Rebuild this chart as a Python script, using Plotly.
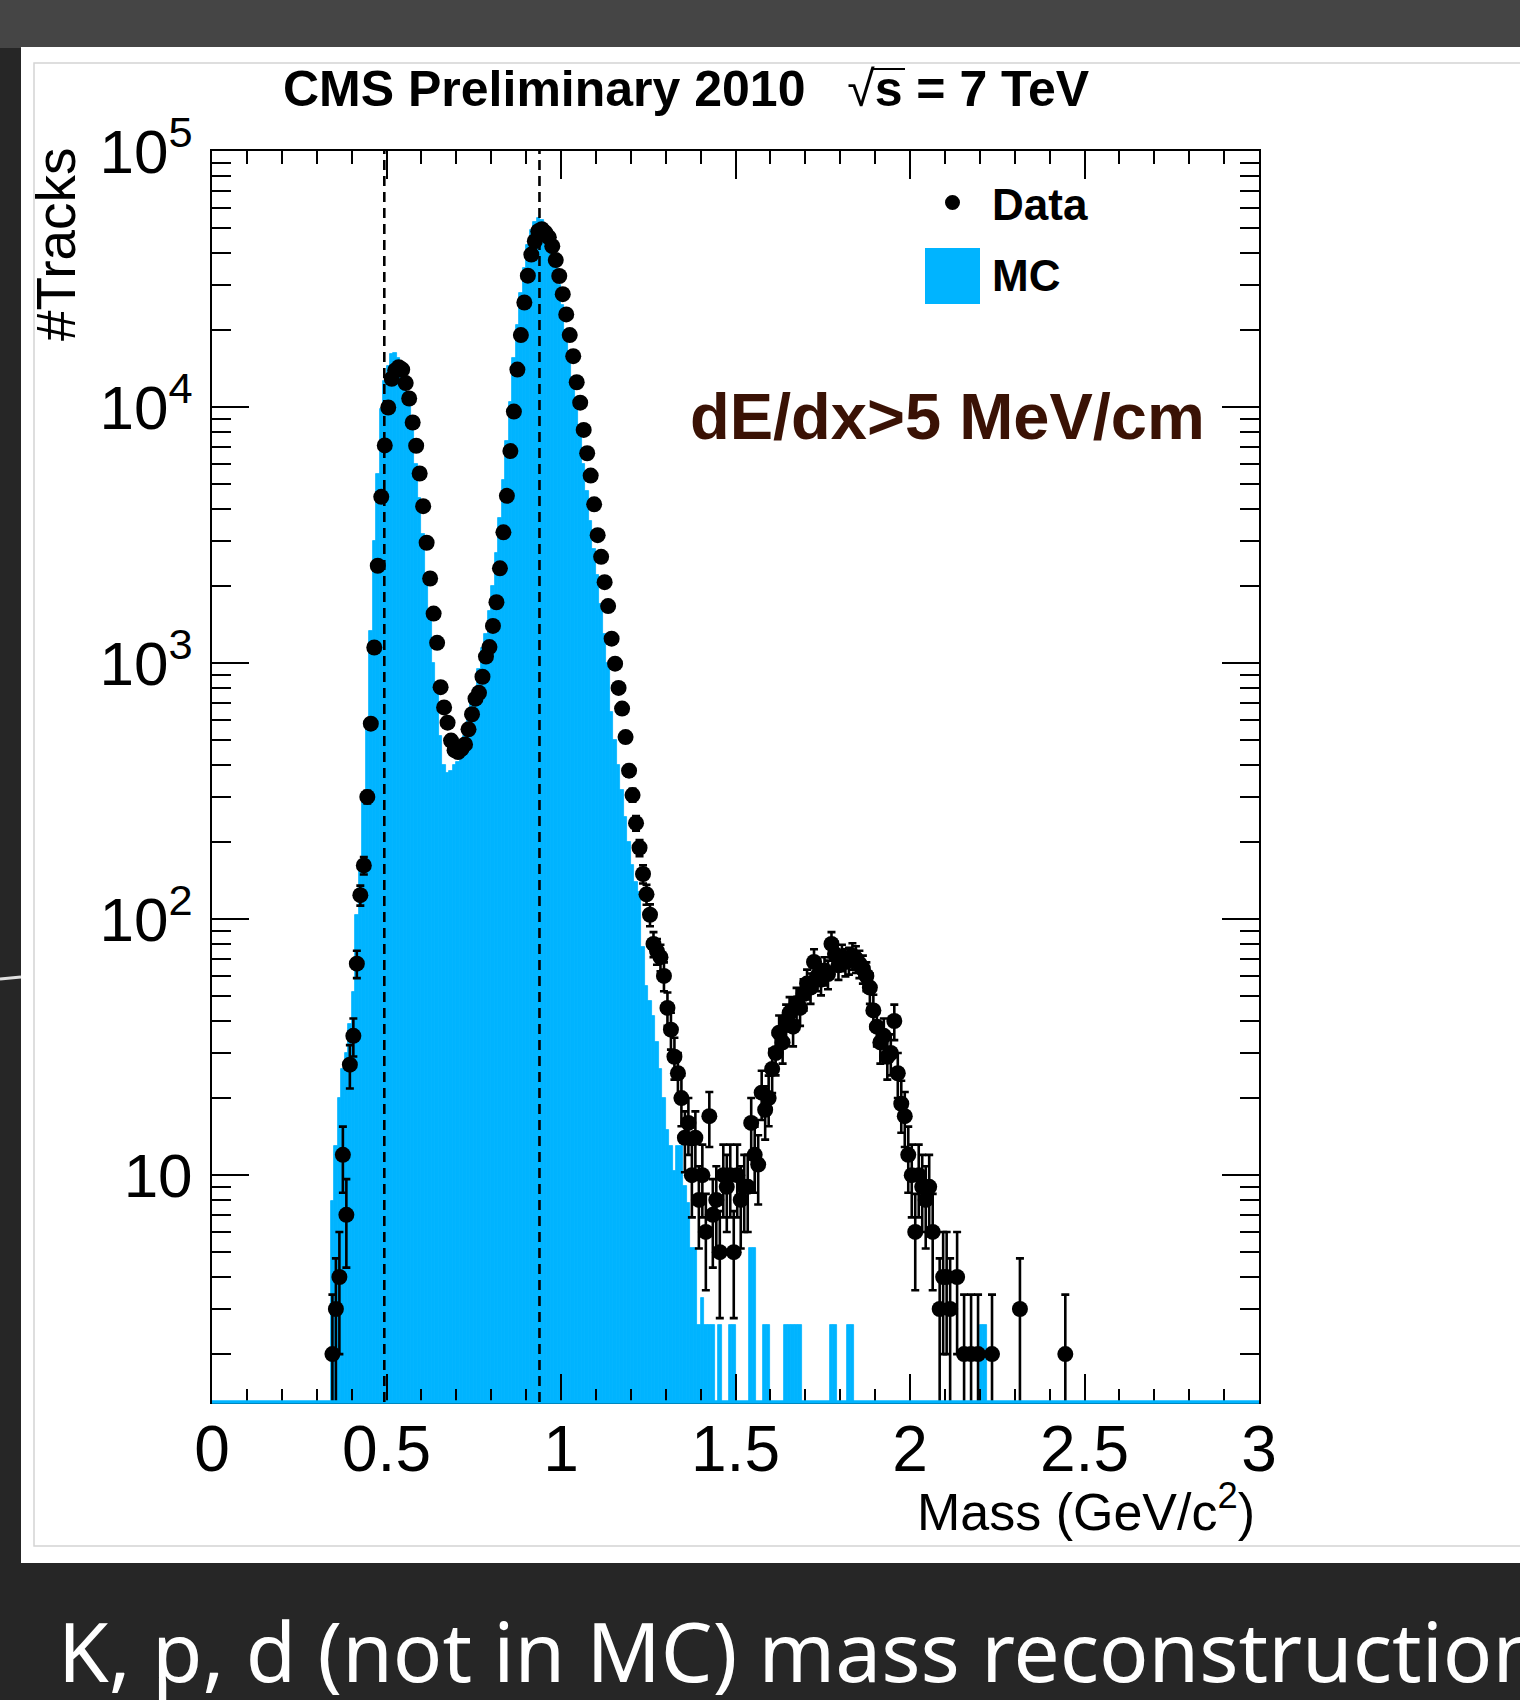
import math
import plotly.graph_objects as go

# ---------------------------------------------------------------------------
# Histogram contents (0.01 GeV/c^2 bins)
# ---------------------------------------------------------------------------
BIN_WIDTH = 0.01

# Data: counts per bin, first bin starts at 0.34 GeV/c^2
DATA_LOW_EDGE = 0.34
data_counts = [
    2, 3, 4, 12, 7, 27, 35, 67, 124, 162,                      # 0.34 - 0.44
    300, 580, 1150, 2400, 4460, 7080, 9960, 12900, 13900, 14300,  # 0.44 - 0.54
    14000, 12400, 10800, 8700, 7060, 5500, 4100, 2950, 2140, 1560,  # 0.54 - 0.64
    1200, 805, 671, 585, 498, 457, 449, 462, 481, 551,          # 0.64 - 0.74
    631, 726, 765, 884, 1060, 1155, 1397, 1728, 2345, 3240,     # 0.74 - 0.84
    4500, 6730, 9600, 14000, 19100, 25600, 32600, 39400, 44400, 48600,  # 0.84 - 0.94
    49500, 48000, 46000, 42500, 37500, 32500, 27600, 23000, 19100, 15800,  # 0.94 - 1.04
    12500, 10400, 8140, 6600, 5400, 4170, 3160, 2600, 2070, 1670,  # 1.04 - 1.14
    1245, 995, 800, 664, 514, 380, 305, 237, 190, 150,          # 1.14 - 1.24
    125, 104, 80, 75, 71, 60, 45, 37, 29, 25,                   # 1.24 - 1.34
    20, 14, 16, 10, 14, 8, 10, 6, 17, 7,                        # 1.34 - 1.44
    8, 5, 10, 9, 10, 5, 10, 8, 9, 9,                            # 1.44 - 1.54
    16, 12, 11, 21, 18, 20, 26, 30, 36, 33,                     # 1.54 - 1.64
    40, 43, 38, 47, 45, 51, 56, 54, 68, 60,                     # 1.64 - 1.74
    58, 63, 61, 80, 73, 66, 71, 68, 69, 72,                     # 1.74 - 1.84
    70, 67, 64, 60, 54, 44, 38, 33, 35, 29,                     # 1.84 - 1.94
    30, 40, 25, 19, 17, 12, 10, 6, 10, 9,                       # 1.94 - 2.04
    8, 9, 6, 0, 3, 4, 4, 3, 0, 4,                               # 2.04 - 2.14
    0, 2, 0, 2, 0, 2, 0, 0, 0, 2,                               # 2.14 - 2.24
    0, 0, 0, 0, 0, 0, 0, 3, 0, 0,                               # 2.24 - 2.34
    0, 0, 0, 0, 0, 0, 0, 0, 0, 0,                               # 2.34 - 2.44
    2,                                                          # 2.44 - 2.45
]

# Simulation (normalised to data), first bin starts at 0.34 GeV/c^2
MC_LOW_EDGE = 0.34
mc_values = [
    7.9, 13, 20, 26, 30, 39, 52, 104, 165, 300,                 # 0.34 - 0.44
    590, 1330, 3000, 5500, 9800, 12600, 14500, 16100, 16200, 15600,  # 0.44 - 0.54
    13800, 12000, 10100, 8200, 6000, 4400, 3200, 2200, 1500, 1000,   # 0.54 - 0.64
    780, 520, 400, 373, 378, 400, 410, 430, 520, 640,            # 0.64 - 0.74
    740, 800, 950, 1150, 1300, 1600, 2000, 2700, 3700, 5200,     # 0.74 - 0.84
    7400, 10500, 15500, 21000, 28000, 35000, 43000, 49000, 53000, 54500,  # 0.84 - 0.94
    54000, 51000, 47000, 42000, 36000, 30000, 25000, 20000, 16000, 12800,  # 0.94 - 1.04
    10000, 7800, 6000, 4700, 3600, 2800, 2200, 1700, 1300, 1000,  # 1.04 - 1.14
    645, 500, 400, 320, 250, 200, 162, 140, 128, 78,             # 1.14 - 1.24
    55, 48, 42, 33, 26, 20, 15, 13, 10.4, 13,                    # 1.24 - 1.34
    13, 9.1, 7.8, 5.2, 5.2, 2.6, 3.3, 2.6, 2.6, 2.6,             # 1.34 - 1.44
    0, 2.6, 0, 0, 2.6, 2.6, 0, 0, 0, 0,                          # 1.44 - 1.54
    5.2, 5.2, 0, 0, 2.6, 2.6, 0, 0, 0, 0,                        # 1.54 - 1.64
    2.6, 2.6, 2.6, 2.6, 2.6, 0, 0, 0, 0, 0,                      # 1.64 - 1.74
    0, 0, 0, 2.6, 2.6, 0, 0, 0, 2.6, 2.6,                        # 1.74 - 1.84
    0, 0, 0, 0, 0, 0, 0, 0, 0, 0,                                # 1.84 - 1.94
    0, 0, 0, 0, 0, 0, 0, 0, 0, 0,                                # 1.94 - 2.04
    0, 0, 0, 0, 0, 0, 0, 0, 0, 0,                                # 2.04 - 2.14
    0, 0, 0, 0, 0, 0, 2.6, 2.6,                                  # 2.14 - 2.22
]

# Reference masses (GeV/c^2): kaon and proton
reference_masses = [0.4937, 0.9383]

# Axis ticks
x_tick_vals = [0, 0.5, 1, 1.5, 2, 2.5, 3]
x_tick_text = ["0", "0.5", "1", "1.5", "2", "2.5", "3"]
y_tick_vals = [10, 100, 1000, 10000, 100000]
y_tick_text = ["10", "10<sup>2</sup>", "10<sup>3</sup>", "10<sup>4</sup>", "10<sup>5</sup>"]
y_minor_vals = [m * 10 ** e for e in range(0, 5) for m in range(2, 10)
                if 1.3 <= m * 10 ** e <= 1e5 and m * 10 ** e not in y_tick_vals]

Y_MIN, Y_MAX = 1.3, 1e5

# ---------------------------------------------------------------------------
# Page geometry helpers (canvas pixels -> paper coordinates)
# ---------------------------------------------------------------------------
W, H = 1520, 1700
PL, PR, PT, PB = 212, 1259, 151, 1402


def px_x(px):
    return (px - PL) / (PR - PL)


def px_y(py):
    return (PB - py) / (PB - PT)


MC_BLUE = "#00b4ff"
FONT = "Liberation Sans, Arial, Helvetica, sans-serif"

# ---------------------------------------------------------------------------
# Traces
# ---------------------------------------------------------------------------
mc_x = [MC_LOW_EDGE + BIN_WIDTH * (i + 0.5) for i, v in enumerate(mc_values) if v > 0]
mc_y = [v for v in mc_values if v > 0]

data_x = [DATA_LOW_EDGE + BIN_WIDTH * (i + 0.5) for i, n in enumerate(data_counts) if n > 0]
data_y = [n for n in data_counts if n > 0]
data_err = [math.sqrt(n) for n in data_y]

fig = go.Figure()
fig.add_trace(go.Bar(
    x=mc_x, y=mc_y, width=BIN_WIDTH,
    marker=dict(color=MC_BLUE, line=dict(color=MC_BLUE, width=0.8)),
    name="MC", showlegend=False,
))
fig.add_trace(go.Scatter(
    x=data_x, y=data_y, mode="markers",
    marker=dict(color="black", size=16),
    error_y=dict(type="data", array=data_err, visible=True,
                 color="black", thickness=2.6, width=4),
    name="Data", showlegend=False,
))

# ---------------------------------------------------------------------------
# Decorations: slide background, white canvas, reference-mass lines, legend
# ---------------------------------------------------------------------------
shapes = [
    # slide bands
    dict(type="rect", xref="paper", yref="paper", layer="below",
         x0=px_x(0), x1=px_x(W), y0=px_y(0), y1=px_y(48),
         fillcolor="#454545", line=dict(width=0)),
    # white canvas
    dict(type="rect", xref="paper", yref="paper", layer="below",
         x0=px_x(21), x1=px_x(W + 5), y0=px_y(47), y1=px_y(1563),
         fillcolor="white", line=dict(width=0)),
    dict(type="rect", xref="paper", yref="paper", layer="below",
         x0=px_x(34), x1=px_x(W + 5), y0=px_y(63), y1=px_y(1546),
         fillcolor="white", line=dict(color="#d4d4d4", width=1.5)),
    # light streak on the left band
    dict(type="line", xref="paper", yref="paper", layer="below",
         x0=px_x(0), x1=px_x(21), y0=px_y(979), y1=px_y(977),
         line=dict(color="#e0e0e0", width=3)),
    # MC outline along the bottom of the frame
    dict(type="line", xref="x", yref="paper", layer="above",
         x0=0, x1=3, y0=0, y1=0, line=dict(color=MC_BLUE, width=3.5)),
    # radical overline in the title
    dict(type="line", xref="paper", yref="paper", layer="above",
         x0=px_x(871), x1=px_x(905), y0=px_y(69), y1=px_y(69),
         line=dict(color="black", width=2)),
    # legend entries
    dict(type="circle", xref="paper", yref="paper", layer="above",
         x0=px_x(945), x1=px_x(960), y0=px_y(195), y1=px_y(210),
         fillcolor="black", line=dict(width=0)),
    dict(type="rect", xref="paper", yref="paper", layer="above",
         x0=px_x(925), x1=px_x(980), y0=px_y(248), y1=px_y(304),
         fillcolor=MC_BLUE, line=dict(width=0)),
]
for m in reference_masses:
    shapes.append(dict(type="line", xref="x", yref="paper", layer="above",
                       x0=m, x1=m, y0=0, y1=1,
                       line=dict(color="black", width=2.6, dash="10px,6px")))

NB = "\u00a0"
annotations = [
    dict(text="<b>CMS Preliminary 2010</b>" + NB * 3 + "\u221a<b>s = 7 TeV</b>",
         x=px_x(686), y=px_y(89), xref="paper", yref="paper",
         xanchor="center", yanchor="middle", showarrow=False,
         font=dict(family=FONT, size=50, color="black")),
    dict(text="#Tracks", textangle=-90,
         x=px_x(56), y=px_y(145), xref="paper", yref="paper",
         xanchor="center", yanchor="top", showarrow=False,
         font=dict(family=FONT, size=55, color="black")),
    dict(text="Mass (GeV/c<sup>2</sup>)",
         x=px_x(1257), y=px_y(1508), xref="paper", yref="paper",
         xanchor="right", yanchor="middle", showarrow=False,
         font=dict(family=FONT, size=52, color="black")),
    dict(text="<b>Data</b>",
         x=px_x(990), y=px_y(204), xref="paper", yref="paper",
         xanchor="left", yanchor="middle", showarrow=False,
         font=dict(family=FONT, size=44, color="black")),
    dict(text="<b>MC</b>",
         x=px_x(990), y=px_y(276), xref="paper", yref="paper",
         xanchor="left", yanchor="middle", showarrow=False,
         font=dict(family=FONT, size=44, color="black")),
    dict(text="<b>dE/dx>5 MeV/cm</b>",
         x=px_x(947), y=px_y(416), xref="paper", yref="paper",
         xanchor="center", yanchor="middle", showarrow=False,
         font=dict(family=FONT, size=65, color="#3a1205")),
    dict(text="K, p, d (not in MC) mass reconstruction",
         x=px_x(56), y=px_y(1650), xref="paper", yref="paper",
         xanchor="left", yanchor="middle", showarrow=False,
         font=dict(family="Noto Sans, sans-serif", size=82, color="white")),
]

fig.update_layout(
    width=W, height=H,
    margin=dict(l=PL, r=W - PR, t=PT, b=H - PB, pad=0),
    paper_bgcolor="#262626",
    plot_bgcolor="white",
    bargap=0,
    showlegend=False,
    shapes=shapes,
    annotations=annotations,
    font=dict(family=FONT, color="black"),
)
fig.update_xaxes(
    range=[0, 3], tickmode="array", tickvals=x_tick_vals, ticktext=x_tick_text,
    ticks="inside", ticklen=28, tickwidth=2, tickcolor="black",
    minor=dict(dtick=0.1, ticks="inside", ticklen=13, tickwidth=2, tickcolor="black"),
    showline=True, linewidth=2, linecolor="black", mirror="ticks",
    showgrid=False, zeroline=False,
    tickfont=dict(family=FONT, size=64, color="black"), ticklabelstandoff=-10,
)
fig.update_yaxes(
    type="log", range=[math.log10(Y_MIN), math.log10(Y_MAX)],
    tickmode="array", tickvals=y_tick_vals, ticktext=y_tick_text,
    ticks="inside", ticklen=37, tickwidth=2, tickcolor="black",
    minor=dict(tickmode="array", tickvals=y_minor_vals, ticks="inside",
               ticklen=19, tickwidth=2, tickcolor="black"),
    showline=True, linewidth=2, linecolor="black", mirror="ticks",
    showgrid=False, zeroline=False,
    tickfont=dict(family=FONT, size=62, color="black"), ticklabelstandoff=5,
)

fig.write_html("out.html")
